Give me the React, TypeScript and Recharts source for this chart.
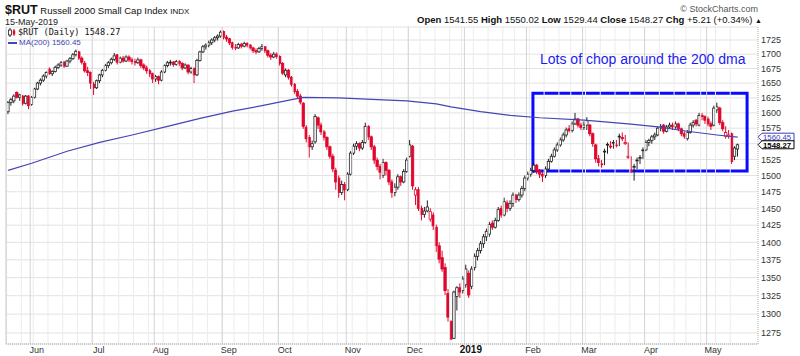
import React from "react";
import {
  ComposedChart,
  Bar,
  Line,
  XAxis,
  YAxis,
  CartesianGrid,
  ReferenceLine,
  ReferenceArea,
} from "recharts";

// Daily candles, 21-May-2018 .. 15-May-2019 (248 trading days), index 0..247
const opens = [
  // May 2018
  1602, 1617, 1620, 1634, 1626, 1628, 1616, 1628,
  // Jun
  1614, 1626, 1640, 1650, 1655, 1662, 1674, 1666, 1670, 1677, 1681, 1686, 1679, 1688, 1692, 1699, 1704, 1693, 1684, 1671, 1668,
  // Jul
  1648, 1642, 1654, 1664, 1672, 1680, 1685, 1691, 1699, 1686, 1693, 1688, 1695, 1690, 1687, 1685, 1690, 1681, 1676, 1671, 1666,
  // Aug
  1657, 1661, 1655, 1669, 1680, 1685, 1686, 1682, 1687, 1684, 1676, 1681, 1669, 1675, 1664, 1689, 1704, 1713, 1716, 1720, 1725, 1729, 1732,
  // Sep
  1740, 1730, 1727, 1720, 1712, 1711, 1717, 1714, 1719, 1716, 1711, 1706, 1704, 1710, 1713, 1706, 1698, 1695, 1700,
  // Oct
  1696, 1684, 1664, 1672, 1660, 1648, 1636, 1628, 1616, 1576, 1560, 1545, 1553, 1592, 1580, 1569, 1560, 1545, 1530, 1508, 1496, 1474, 1486,
  // Nov
  1478, 1502, 1535, 1546, 1550, 1543, 1552, 1578, 1561, 1545, 1524, 1514, 1500, 1520, 1508, 1490, 1474, 1482, 1498, 1490, 1506,
  // Dec
  1530, 1546, 1470, 1478, 1450, 1441, 1446, 1434, 1440, 1422, 1395, 1378, 1364, 1328, 1290, 1268, 1324, 1336, 1332,
  // Jan 2019
  1340, 1356, 1338, 1364, 1380, 1388, 1398, 1408, 1412, 1428, 1422, 1432, 1450, 1440, 1458, 1450, 1457, 1470, 1463, 1470, 1480,
  // Feb
  1496, 1502, 1508, 1516, 1507, 1502, 1500, 1510, 1522, 1530, 1540, 1548, 1556, 1564, 1574, 1571, 1582, 1590, 1580,
  // Mar
  1576, 1580, 1580, 1566, 1548, 1526, 1518, 1538, 1549, 1546, 1552, 1548, 1562, 1560, 1550, 1528, 1508, 1514, 1524, 1528, 1540,
  // Apr
  1540, 1552, 1555, 1561, 1564, 1575, 1580, 1570, 1577, 1580, 1577, 1582, 1574, 1566, 1558, 1568, 1580, 1588, 1580, 1596, 1594,
  // May
  1590, 1582, 1580, 1605, 1608, 1584, 1562, 1562, 1566, 1530, 1541.55,
];

const highs = [
  1620, 1625, 1631, 1636, 1632, 1630, 1630, 1630,
  1628, 1642, 1652, 1658, 1665, 1670, 1677, 1672, 1680, 1684, 1688, 1688, 1690, 1695, 1702, 1708, 1706, 1696, 1688, 1678, 1670,
  1652, 1656, 1666, 1674, 1683, 1688, 1694, 1702, 1700, 1696, 1697, 1698, 1698, 1694, 1692, 1694, 1692, 1684, 1680, 1674, 1668,
  1664, 1663, 1672, 1682, 1688, 1690, 1688, 1690, 1690, 1686, 1684, 1682, 1678, 1677, 1692, 1706, 1716, 1719, 1724, 1728, 1732, 1735, 1742,
  1742, 1734, 1729, 1722, 1718, 1720, 1720, 1722, 1721, 1718, 1713, 1710, 1713, 1718, 1714, 1708, 1702, 1704, 1703,
  1698, 1686, 1675, 1674, 1662, 1650, 1640, 1632, 1618, 1580, 1564, 1555, 1598, 1594, 1584, 1572, 1562, 1547, 1534, 1512, 1500, 1492, 1490,
  1505, 1538, 1550, 1554, 1552, 1556, 1584, 1580, 1563, 1548, 1528, 1518, 1526, 1522, 1510, 1494, 1488, 1502, 1500, 1510, 1528,
  1556, 1548, 1482, 1482, 1454, 1452, 1462, 1450, 1444, 1426, 1400, 1388, 1370, 1334, 1292, 1332, 1338, 1342, 1352,
  1368, 1360, 1366, 1384, 1392, 1402, 1412, 1420, 1430, 1432, 1436, 1452, 1454, 1466, 1462, 1462, 1474, 1472, 1474, 1484, 1500,
  1506, 1512, 1520, 1518, 1510, 1505, 1514, 1526, 1534, 1544, 1552, 1560, 1568, 1576, 1580, 1586, 1600, 1592, 1584,
  1586, 1593, 1582, 1568, 1550, 1532, 1524, 1542, 1552, 1554, 1556, 1556, 1566, 1568, 1564, 1552, 1530, 1518, 1528, 1532, 1544,
  1556, 1558, 1564, 1568, 1578, 1582, 1582, 1580, 1584, 1584, 1586, 1584, 1576, 1570, 1572, 1584, 1588, 1590, 1600, 1600, 1596,
  1594, 1586, 1612, 1617, 1610, 1588, 1578, 1572, 1568, 1546, 1550.02,
];

const lows = [
  1598, 1612, 1616, 1624, 1620, 1612, 1614, 1606,
  1612, 1624, 1638, 1646, 1652, 1658, 1664, 1662, 1668, 1674, 1678, 1676, 1678, 1684, 1690, 1696, 1690, 1682, 1668, 1662, 1640,
  1630, 1640, 1650, 1660, 1670, 1676, 1682, 1688, 1682, 1684, 1685, 1686, 1686, 1682, 1680, 1683, 1676, 1672, 1666, 1660, 1650,
  1652, 1648, 1653, 1667, 1677, 1680, 1678, 1680, 1679, 1672, 1674, 1665, 1666, 1650, 1662, 1687, 1702, 1708, 1712, 1716, 1721, 1724, 1729,
  1726, 1722, 1716, 1708, 1707, 1709, 1710, 1712, 1712, 1708, 1702, 1700, 1702, 1706, 1702, 1694, 1690, 1693, 1692,
  1680, 1664, 1660, 1656, 1644, 1632, 1624, 1614, 1574, 1552, 1528, 1540, 1550, 1574, 1564, 1555, 1540, 1526, 1505, 1478, 1466, 1470, 1462,
  1476, 1500, 1532, 1540, 1538, 1540, 1550, 1556, 1540, 1518, 1508, 1494, 1496, 1500, 1485, 1466, 1468, 1478, 1484, 1488, 1504,
  1528, 1478, 1455, 1446, 1432, 1436, 1444, 1430, 1418, 1386, 1370, 1358, 1326, 1290, 1266, 1267, 1305, 1322, 1328,
  1336, 1322, 1334, 1360, 1374, 1384, 1392, 1402, 1408, 1418, 1420, 1430, 1436, 1438, 1444, 1446, 1452, 1458, 1460, 1466, 1476,
  1492, 1498, 1504, 1502, 1496, 1490, 1496, 1508, 1520, 1528, 1537, 1545, 1553, 1560, 1568, 1568, 1580, 1576, 1572,
  1572, 1572, 1562, 1545, 1520, 1514, 1512, 1516, 1534, 1542, 1542, 1544, 1546, 1554, 1548, 1526, 1504, 1492, 1510, 1518, 1526,
  1538, 1546, 1550, 1556, 1562, 1570, 1566, 1568, 1574, 1572, 1574, 1570, 1562, 1558, 1555, 1566, 1576, 1578, 1578, 1588, 1582,
  1578, 1572, 1578, 1600, 1580, 1570, 1558, 1558, 1518, 1524, 1529.44,
];

const closes = [
  1617, 1622, 1628, 1626, 1630, 1616, 1628, 1612,
  1626, 1640, 1650, 1655, 1662, 1668, 1666, 1670, 1677, 1681, 1685, 1679, 1688, 1692, 1699, 1705, 1693, 1686, 1671, 1668, 1650,
  1642, 1654, 1664, 1672, 1680, 1685, 1691, 1697, 1686, 1693, 1688, 1695, 1690, 1687, 1685, 1690, 1680, 1676, 1671, 1666, 1657,
  1661, 1655, 1669, 1680, 1685, 1686, 1682, 1687, 1684, 1676, 1681, 1669, 1675, 1664, 1689, 1704, 1713, 1716, 1720, 1725, 1729, 1732, 1739,
  1730, 1727, 1720, 1712, 1711, 1717, 1714, 1719, 1716, 1711, 1706, 1704, 1710, 1713, 1706, 1698, 1695, 1700, 1696,
  1684, 1667, 1672, 1660, 1648, 1636, 1628, 1618, 1578, 1558, 1545, 1550, 1594, 1580, 1569, 1560, 1545, 1530, 1510, 1490, 1474, 1486, 1478,
  1502, 1535, 1546, 1550, 1543, 1552, 1578, 1561, 1545, 1524, 1514, 1505, 1520, 1508, 1490, 1474, 1482, 1498, 1490, 1506, 1524,
  1548, 1484, 1478, 1450, 1441, 1446, 1452, 1445, 1424, 1395, 1376, 1362, 1332, 1296, 1267, 1330, 1336, 1330, 1348,
  1362, 1326, 1362, 1380, 1388, 1398, 1408, 1416, 1426, 1422, 1432, 1448, 1440, 1460, 1450, 1457, 1470, 1463, 1470, 1480, 1496,
  1502, 1508, 1516, 1507, 1502, 1499, 1510, 1522, 1530, 1540, 1548, 1556, 1564, 1572, 1571, 1582, 1590, 1580, 1576,
  1580, 1587, 1566, 1550, 1526, 1520, 1517, 1538, 1549, 1546, 1552, 1548, 1562, 1558, 1552, 1530, 1508, 1514, 1524, 1528, 1540,
  1552, 1555, 1561, 1564, 1575, 1578, 1570, 1577, 1580, 1577, 1582, 1574, 1566, 1562, 1568, 1580, 1584, 1582, 1596, 1594, 1588,
  1582, 1578, 1608, 1610, 1584, 1574, 1568, 1564, 1522, 1543.06, 1548.27,
];

// 200-day moving average, read at these candle positions
const maIndex = [0, 8, 20, 31, 42, 54, 65, 76, 86, 96, 100, 112, 125, 135, 145, 150, 160, 170, 180, 195, 210, 220, 230, 240, 247];
const maValues = [1508, 1519, 1538, 1552, 1564, 1578, 1591, 1603, 1612, 1622, 1626, 1625, 1622, 1620, 1615, 1610, 1602, 1596, 1592, 1588, 1582, 1577, 1570, 1564, 1560.45];

const monthTickIndex = [8, 29, 50, 73, 92, 115, 136, 155, 176, 195, 216, 237];
const monthTickLabels = ["Jun", "Jul", "Aug", "Sep", "Oct", "Nov", "Dec", "2019", "Feb", "Mar", "Apr", "May"];
const weekStartIndex = [0, 5, 9, 14, 19, 24, 29, 33, 38, 43, 48, 53, 58, 63, 68, 73, 77, 82, 87, 92, 97, 102, 107, 112, 117, 122, 127, 131, 136, 140, 145, 150, 154, 158, 163, 168, 172, 177, 182, 187, 191, 196, 201, 206, 211, 216, 221, 226, 230, 235, 240, 245];
const yTicks = [1275, 1300, 1325, 1350, 1375, 1400, 1425, 1450, 1475, 1500, 1525, 1550, 1575, 1600, 1625, 1650, 1675, 1700, 1725];
const yTickLabels = yTicks.filter((t) => t !== 1550);

const RED = "#e1062c";
const BLACK = "#222";
const MA_COLOR = "#4545b5";
const BOX_BLUE = "#0a0aff";
const FONT = "'Liberation Sans', Arial, sans-serif";

const maMap = new Map<number, number>();
maIndex.forEach((ix, k) => maMap.set(ix, maValues[k]));

const data = closes.map((c, i) => ({
  i,
  open: opens[i],
  high: highs[i],
  low: lows[i],
  close: c,
  prev: i > 0 ? closes[i - 1] : opens[i],
  range: [lows[i], highs[i]],
  ma: maMap.has(i) ? maMap.get(i) : null,
}));

const Candle = (props: any) => {
  const { x, y, width, height, payload } = props;
  if (x == null || y == null || !payload) return null;
  const top = Math.min(y, y + height);
  const bot = Math.max(y, y + height);
  const { open, high, low, close, prev } = payload;
  const span = Math.log(high / low) || 1;
  const py = (v: number) => top + ((bot - top) * Math.log(high / v)) / span;
  const cx = x + width / 2;
  const color = close < prev ? RED : BLACK;
  const up = close >= open;
  const yo = py(open);
  const yc = py(close);
  const bTop = Math.min(yo, yc);
  const bH = Math.max(Math.abs(yo - yc), 0.8);
  return (
    <g>
      <line x1={cx} x2={cx} y1={top} y2={bot} stroke={color} strokeWidth={1} />
      <rect
        x={cx - 1.2}
        y={bTop}
        width={2.4}
        height={bH}
        fill={up ? "#ffffff" : color}
        stroke={color}
        strokeWidth={0.8}
      />
    </g>
  );
};

const MonthTick = (props: any) => {
  const { x, payload } = props;
  const k = monthTickIndex.indexOf(payload.value);
  const label = k >= 0 ? monthTickLabels[k] : "";
  const bold = label === "2019";
  return (
    <text
      x={x + 5}
      y={353}
      textAnchor="middle"
      fontSize={bold ? 10 : 9}
      fontWeight={bold ? 700 : 400}
      fill={bold ? "#111" : "#333"}
      fontFamily={FONT}
    >
      {label}
    </text>
  );
};

const PriceTag = (props: any) => {
  const { viewBox, text, color, bold } = props;
  if (!viewBox) return null;
  const x0 = viewBox.x + viewBox.width;
  const yc = viewBox.y;
  const pts = `${x0},${yc} ${x0 + 4},${yc - 4} ${x0 + 36},${yc - 4} ${x0 + 36},${yc + 4} ${x0 + 4},${yc + 4}`;
  return (
    <g>
      <polygon points={pts} fill="#fff" stroke={color} strokeWidth={1} />
      <text
        x={x0 + 5}
        y={yc + 2.8}
        fontSize={7.8}
        fontWeight={bold ? 700 : 400}
        fill={color}
        fontFamily={FONT}
      >
        {text}
      </text>
    </g>
  );
};

export default function App() {
  return (
    <div
      style={{
        position: "absolute",
        left: 0,
        top: 0,
        width: 800,
        height: 356,
        background: "#fff",
        fontFamily: FONT,
        overflow: "hidden",
      }}
    >
      <ComposedChart
        width={800}
        height={356}
        data={data}
        margin={{ top: 27, right: 0, bottom: 0, left: 6 }}
      >
        <CartesianGrid vertical={false} stroke="#e2e2e2" />
        {weekStartIndex.map((w) => (
          <ReferenceLine key={"w" + w} x={w - 0.5} stroke="#ececec" strokeWidth={1} />
        ))}
        {monthTickIndex.map((m) => (
          <ReferenceLine key={"m" + m} x={m - 0.5} stroke="#d4d4d4" strokeWidth={1} />
        ))}
        <ReferenceLine x={-0.7} stroke="#c8c8c8" />
        <XAxis
          dataKey="i"
          type="number"
          domain={[-0.7, 253.9]}
          allowDataOverflow
          ticks={monthTickIndex}
          tick={<MonthTick />}
          tickLine={false}
          tickSize={0}
          tickMargin={0}
          axisLine={{ stroke: "#aaa", strokeDasharray: "1 1" }}
          height={12}
          interval={0}
        />
        <YAxis
          orientation="right"
          scale="log"
          type="number"
          domain={[1260.6, 1748.3]}
          allowDataOverflow
          ticks={yTicks}
          tickFormatter={(v: number) => (yTickLabels.includes(v) ? String(v) : "")}
          tick={{ fontSize: 9, fill: "#333", fontFamily: FONT }}
          tickLine={false}
          tickSize={0}
          tickMargin={3}
          axisLine={{ stroke: "#aaa", strokeDasharray: "1 1" }}
          width={42}
          interval={0}
        />
        <Line
          dataKey="ma"
          type="linear"
          stroke={MA_COLOR}
          strokeWidth={1.2}
          dot={false}
          connectNulls
          isAnimationActive={false}
        />
        <Bar
          dataKey="range"
          barSize={3}
          shape={<Candle />}
          isAnimationActive={false}
        />
        <ReferenceArea
          x1={177.7}
          x2={250.2}
          y1={1507}
          y2={1633}
          fill="none"
          fillOpacity={0}
          stroke={BOX_BLUE}
          strokeWidth={3}
          ifOverflow="visible"
        />
        <ReferenceLine
          y={1560.45}
          stroke="none"
          ifOverflow="visible"
          label={<PriceTag text="1560.45" color="#3a3ac0" bold={false} />}
        />
        <ReferenceLine
          y={1548.27}
          stroke="none"
          ifOverflow="visible"
          label={<PriceTag text="1548.27" color="#000" bold={true} />}
        />
      </ComposedChart>

      {/* header */}
      <div style={{ position: "absolute", left: 5, top: 2, whiteSpace: "nowrap", color: "#111", lineHeight: "13px" }}>
        <span style={{ fontSize: 12.5, fontWeight: 700 }}>$RUT</span>
        <span style={{ fontSize: 9.5 }}> Russell 2000 Small Cap Index </span>
        <span style={{ fontSize: 8 }}>INDX</span>
      </div>
      <div style={{ position: "absolute", left: 5, top: 17.5, fontSize: 9, color: "#222", whiteSpace: "nowrap", lineHeight: "9px" }}>
        15-May-2019
      </div>
      <div style={{ position: "absolute", right: 42, top: 4, fontSize: 9, color: "#555", whiteSpace: "nowrap", lineHeight: "10px" }}>
        © StockCharts.com
      </div>
      <div style={{ position: "absolute", right: 38, top: 14, fontSize: 9.5, color: "#111", whiteSpace: "nowrap", lineHeight: "11px" }}>
        <b>Open</b> 1541.55 <b>High</b> 1550.02 <b>Low</b> 1529.44 <b>Close</b> 1548.27 <b>Chg</b> +5.21 (+0.34%) <span style={{ fontSize: 7 }}>▲</span>
      </div>

      {/* legend */}
      <div style={{ position: "absolute", left: 8, top: 28, whiteSpace: "nowrap", display: "flex", alignItems: "center", lineHeight: "9px" }}>
        <svg width={8} height={9} style={{ marginRight: 2 }}>
          <line x1={2} x2={2} y1={0} y2={9} stroke="#222" />
          <rect x={0.5} y={2} width={3} height={5} fill="#fff" stroke="#222" strokeWidth={0.8} />
          <line x1={6} x2={6} y1={1} y2={8} stroke={RED} />
          <rect x={4.8} y={2.5} width={2.4} height={4} fill={RED} />
        </svg>
        <span style={{ fontFamily: "'DejaVu Sans Mono', monospace", fontSize: 8.5, color: "#111" }}>
          $RUT (Daily) 1548.27
        </span>
      </div>
      <div style={{ position: "absolute", left: 8, top: 38, whiteSpace: "nowrap", fontSize: 8, color: MA_COLOR, lineHeight: "9px" }}>
        <span style={{ display: "inline-block", width: 9, height: 1.5, background: MA_COLOR, verticalAlign: "middle", marginRight: 2 }} />
        MA(200) 1560.45
      </div>

      {/* annotation */}
      <div style={{ position: "absolute", left: 540, top: 51, fontSize: 14, color: "#1c1cf0", whiteSpace: "nowrap", lineHeight: "16px" }}>
        Lots of chop around the 200 dma
      </div>
    </div>
  );
}
